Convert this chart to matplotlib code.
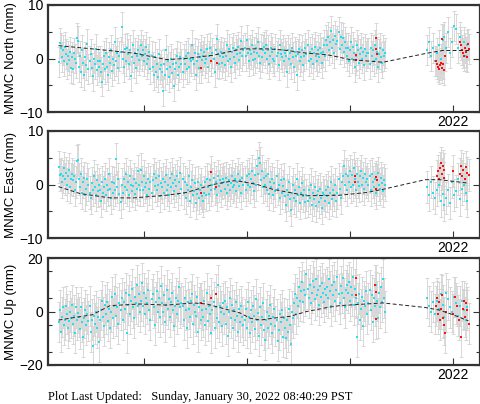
import numpy as np
import matplotlib
matplotlib.use("Agg")
import matplotlib.pyplot as plt

plt.rcParams["font.family"] = ["Liberation Sans", "DejaVu Sans"]

# ---- data (mm), roughly daily/weekly solutions ----
start1, end1 = 2018.17, 2021.34
start2, end2 = 2021.75, 2022.14

north_1 = [
    -0.6, 2.9, 2.0, 0.3, 1.5, -0.5, 2.1, 0.8, -1.0, 0.5, -0.3, 1.2, -1.8, 0.2, -2.0, 1.0, 0.0, -0.8, 3.8, 3.2,
    -1.5, 0.5, -2.5, 1.5, -0.8, -3.0, 0.2, -1.2, 2.8, -2.0, -0.5, 0.8, -1.8, -3.2, 0.0, -1.0, 1.7, -2.2, -0.4, -1.5,
    -0.5, -2.5, -4.3, -1.0, 0.5, -2.0, 1.0, -1.5, -3.0, 0.2, -0.8, 1.5, -2.3, 0.0, -1.2, 3.0, -0.5, 1.0, -1.8, 0.5,
    1.2, 5.8, 0.0, -1.5, 1.8, -0.5, 2.0, 0.8, -1.0, 1.5, -3.2, 0.3, 2.5, -0.8, 1.0, -1.8, 0.5, 1.5, -0.3, 0.8,
    2.5, 0.5, 1.5, -0.5, 0.8, 2.2, -1.0, 0.0, 1.2, -2.0, 0.5, -1.5, -3.0, 0.2, -2.5, -1.0, -3.5, 0.8, -2.0, -1.2,
    -2.5, -6.0, -1.0, -3.0, 1.5, -2.0, -0.5, -3.5, -1.5, 0.0, -2.8, -1.0, -5.2, -2.0, -0.8, 0.5, -3.0, -1.5, 0.3, -1.0,
    -2.5, 0.0, -1.0, 0.5, -2.0, 1.0, -1.5, 0.0, -0.5, 2.5, 0.0, -1.0, 1.0, -3.0, -0.5, 0.8, -1.8, 0.3, 1.5, -0.2,
    0.5, 1.2, -0.8, 0.0, 1.8, -1.5, 0.5, 2.0, -0.5, 1.0, 0.0, -2.5, 1.5, 3.7, 0.8, -1.0, 0.5, 1.2, -0.8, 0.2,
    1.0, -1.2, 0.5, 2.5, -0.5, 1.8, 0.0, -1.5, 1.2, 2.0, 0.3, -0.8, 1.5, 0.8, 2.2, -0.3, 1.0, 3.2, 0.5, 1.5,
    2.0, 0.5, 3.5, 1.0, -0.5, 1.5, 0.8, 2.5, -0.3, 1.2, 0.0, 2.0, 1.0, 3.0, 0.5, -0.8, 1.8, 0.3, 1.5, 2.2,
    1.0, 2.5, 0.0, 1.5, -1.0, 0.5, 2.0, 1.2, 0.0, -0.5, 1.8, 0.5, 1.0, -1.2, 2.5, 0.8, 0.2, 1.5, -0.5, 1.0,
    0.5, -2.5, 1.5, 0.0, 1.0, -1.0, 2.0, 0.3, -1.5, 1.2, 0.5, -3.0, 0.8, 1.8, -0.5, 0.2, 1.5, -1.2, 0.5, 2.0,
    0.8, 2.5, -0.5, 1.2, 0.0, 1.8, -1.0, 1.0, 2.2, 0.5, -0.5, 1.5, 0.2, 2.0, 1.0, -0.8, 1.2, 2.5, 0.5, 3.5,
    2.5, 4.0, 1.5, 3.0, 5.2, 2.0, 3.5, 1.0, 4.2, 2.8, 3.2, 5.0, 1.8, 4.0, 2.5, 3.8, 1.2, 3.0, 2.0, 0.5,
    2.0, -0.5, 1.5, 3.0, 0.0, 2.2, 1.0, -1.5, 0.5, 2.5, 1.5, -0.8, 0.8, 2.0, 0.0, 1.2, -1.2, 1.8, 0.5, 1.0,
    1.0, -1.0, 2.0, 0.5, 1.5, -0.5, 2.5, 0.0, 1.2, -1.5, 0.8, 2.0, 0.3, -0.8, 1.5, 0.5, 1.0,
]
north_2 = [1.5, 3.0, 0.5, 2.0, -0.5, 1.0, 2.5, 0.0, 3.5, 4.0, 2.0, 5.0, 1.0, 3.0, 6.0, 5.5, 2.0, 4.0, 1.5, 3.0, 0.5, 2.5]
north_red_t = [2019.55, 2019.65, 2019.71, 2021.06, 2021.06, 2021.25, 2021.25, 2021.26,
               2021.83, 2021.84, 2021.85, 2021.86, 2021.87, 2021.88, 2021.89, 2021.90, 2021.91, 2021.89, 2021.92,
               2022.07, 2022.08, 2022.09, 2022.10, 2022.11, 2022.12, 2022.13, 2022.14, 2022.15, 2022.16]
north_red_v = [-1.7, -0.5, -0.8, -0.3, 0.6, 3.9, 1.8, 0.9,
               -0.5, -1.0, -1.5, -2.0, -1.2, -0.8, -1.8, -1.0, -2.2, 3.6, 0.4,
               3.0, 2.5, 1.5, 1.0, 0.5, 2.0, 1.2, 0.3, 2.8, 1.8]
north_model_t = [2018.17, 2018.5, 2018.9, 2019.22, 2019.4, 2019.67, 2019.95, 2020.2, 2020.35,
                 2020.58, 2020.78, 2021.0, 2021.32, 2021.75, 2021.9, 2022.16]
north_model_v = [2.4, 1.8, 1.0, -0.2, 0.0, 0.6, 1.8, 1.8, 1.6, 1.0, 0.7, -0.2, -0.7, 1.0, 1.5, 1.5]

east_1 = [
    3.2, 1.8, 2.0, 0.5, 1.5, 3.0, 1.0, 2.2, 0.0, 1.5, 2.8, -0.5, 1.0, 2.0, 0.8, 1.5, -1.0, 0.5, 4.3, 4.5,
    1.0, -0.5, 2.0, -1.5, 0.5, 1.2, -2.0, -0.8, 1.0, 0.0, -1.5, -2.5, 0.3, -1.0, 1.5, -0.5, -2.0, 0.8, -1.2, 0.0,
    -1.0, -3.0, 0.5, -1.5, -0.5, 1.0, -2.0, 0.0, -1.0, 2.0, -0.8, -2.5, 0.5, -1.5, 0.2, -1.0, 4.8, -0.5, 1.0, -1.8,
    -3.3, 0.0, -1.5, 1.0, -0.5, 2.0, -1.0, 0.5, -2.0, 1.5, 0.0, -1.2, -0.3, 1.0, -1.8, 0.3, -0.8, 2.5, 0.0, -1.0,
    2.8, 0.5, -1.0, 1.5, -0.5, 0.2, -2.0, 1.0, -0.8, 0.5, -1.5, 0.8, 2.0, -0.3, 1.2, -1.0, 0.0, 1.5, -2.2, 0.3,
    -0.5, 1.0, -1.5, 0.5, 1.8, -1.0, 0.0, -2.0, 1.2, -0.5, 2.0, 0.3, -1.2, 0.8, -0.3, 1.5, -1.8, 0.5, 2.2, -0.8,
    1.0, -1.5, 0.5, -2.5, 0.0, -1.0, 1.5, -3.0, -0.5, 0.8, -2.0, -1.2, 0.3, -3.5, -1.8, 0.5, -2.5, -1.0, 0.0, -2.2,
    -3.0, -1.5, 0.5, -2.0, 1.0, -0.5, -1.8, 0.8, -1.0, 0.0, 1.2, -0.8, 0.5, -2.0, 1.5, -0.3, 0.8, -1.2, 0.2, 1.0,
    0.5, -0.8, 1.2, -1.5, 0.0, 0.8, -1.0, 0.3, 1.5, -0.5, 0.0, 1.0, -1.2, 0.5, 2.0, -0.3, 0.8, -1.5, 1.2, 0.0,
    0.5, -1.0, 1.5, 0.0, 2.0, -0.5, 1.0, 2.5, 0.3, -1.2, 1.8, 0.0, 3.5, 2.0, 5.0, 4.0, 0.8, 2.5, -0.5, 1.2,
    0.0, 1.5, -1.0, 2.0, -1.8, 0.5, -0.5, 1.0, -2.0, 0.3, -1.2, 1.5, -0.8, 0.0, -2.5, 0.8, -1.5, -0.3, 1.0, -2.2,
    -3.8, -1.0, -2.0, 0.5, -2.8, -4.8, -1.5, 0.0, -2.5, -1.0, -3.0, 1.0, -2.0, -0.5, -3.5, -1.5, 0.3, -2.2, -1.0, -3.2,
    -2.0, -3.0, -1.0, -2.5, 0.0, -3.8, -1.5, -2.8, -0.5, -4.0, -2.0, -1.2, -3.2, -0.8, -2.5, -4.3, -1.5, -2.0, -3.0, -1.0,
    -2.2, -0.5, -3.5, -1.5, 0.5, -2.8, -1.0, -2.0, 0.0, -3.0, -1.5, 1.0, -0.8, -2.5, 0.5, 1.5, 3.5, 0.0, 2.0, -1.0,
    1.5, 0.5, 2.5, -0.5, 1.8, 0.0, 3.0, 1.0, -1.0, 2.0, 0.5, -0.3, 1.5, 2.5, 0.0, 1.2, -0.8, 2.0, 0.5, 1.0,
    0.0, 1.5, -1.0, 2.0, 0.5, -0.5, 1.0, -1.5, 0.8, 2.2, 0.0, -0.8, 1.2, 0.3, -1.2, 0.8, 0.0,
]
east_2 = [-0.5, -2.0, 0.5, -1.5, -2.5, -1.0, 0.0, -3.0, -1.8, -3.8, -2.5, -1.0, -3.5, 0.5, -2.0, -1.2, 1.0, -2.8, -0.8, 0.0, -1.5, -3.0]
east_red_t = [2019.55, 2019.65, 2019.70, 2021.05, 2021.05, 2021.25, 2021.26, 2021.25,
              2021.84, 2021.85, 2021.86, 2021.87, 2021.88, 2021.89, 2021.90, 2021.91, 2021.91, 2022.00,
              2022.07, 2022.08, 2022.09, 2022.10, 2022.12, 2022.13, 2022.14, 2022.16]
east_red_v = [-1.6, 2.4, -0.5, 1.5, 0.5, 1.4, 0.9, -0.9,
              1.5, 2.5, 1.0, 3.0, 4.0, 2.0, 3.5, 1.2, 2.8, 2.6,
              2.0, 3.5, 1.5, 2.8, 1.0, 3.2, 2.2, 1.8]
east_model_t = [2018.17, 2018.38, 2018.67, 2018.9, 2019.22, 2019.41, 2019.67, 2019.87, 2019.93, 2020.1,
                2020.25, 2020.58, 2020.9, 2021.16, 2021.32, 2021.73, 2021.87, 2022.0, 2022.13]
east_model_v = [-0.4, -1.7, -2.5, -2.5, -2.0, -1.5, 0.0, 0.7, 0.6, 0.0,
                -0.9, -2.1, -2.0, -1.5, -0.9, 0.9, 0.9, 0.6, 0.3]

up_1 = [
    -4, 0.5, -7.5, -2, 1.5, -5, -3, 2, -1, -6, -3.5, 0, -2.5, 2.5, -4.5, -1.5, -8, 1.5, -3, -0.5,
    -2, -6.5, 1.5, -4, -9.5, -2.5, 0.5, -5, -1, -3.5, 2, -7.5, -3, -13, -1.5, -4.5, 0, -6, -2, -11.5,
    -3, 0.5, 4, -2, -5.5, 2.5, -1, 3.5, -3.5, 1, -6, 0, 5.5, -2.5, 2, 6.5, -1.5, 1.5, -4.5, 3,
    0.5, 5, -3, 3.5, 1, 7, -8, 2.5, 6, -1, 4, 8.5, 1.5, -2.5, 5.5, 3, 10, 2, 6.5, 0,
    4, 10.5, 2, 7, -1, 5, 3, 8, 0.5, -3, 4.5, 6.5, 1.5, -5, 3.5, 7.5, 0, 5, -2, 9.5,
    3, 0, 6, -4, 2.5, 8, 1, 4.5, -2, 3.5, 7, 0.5, -5.5, 2, 5, -1, 4, 9, 1.5, 3,
    2, -3, 5, 0.5, -6, 3.5, 1, -2, 4, 6.5, -4.5, 2.5, 0, -1.5, 5.5, -7.5, 1.5, 3, -3, 0.5,
    -2, 4, -5, 1, 7, -3.5, 2, -1, -8, 0.5, 3.5, -6, 1.5, -2.5, 10, -4, 2, 0, -5.5, 3,
    -1, 4, -4.5, 1.5, -9, 0, 5, -2.5, 2.5, -6, 0.5, -3, 3.5, -1.5, -7.5, 1, -4, 2, -2, -5,
    -3, 1, -6, 3.5, -2, -8, 0.5, -4, 2, -1.5, -6.5, 4.5, -3, -0.5, -9, 1.5, -5, -2, 3, -7,
    -10.5, -3, 0, -6, -1.5, 2.5, -4.5, -8, -2, 1, -5.5, -3, -11, -7, -1, -4, 0.5, -9.5, -2.5, -6,
    -10, -3, -7.5, 1, -5, -12, 0, -2.5, 3, 6.5, -1, 5, 2, 9, 4, 7.5, 11, 3.5, 8, 6,
    14, 8.5, 5, 10, 3, 7, 11.5, 9, 4.5, 12, 6, 8, 2.5, 9.5, 5.5, 10.5, 7, 3.5, 8.5, 6,
    9, 5, 12, 7.5, 2, 10, 6, 11, 4, 8, 13, 6.5, 3, 9.5, 7, 12.5, 5, 1.5, 8, 10,
    7, 11, 4, 9, 6, 13, 2.5, 8.5, 5, -9.5, 3, 6.5, -3, 1, 5.5, -5.5, 4, 2, 7.5, -1,
    3, 8, 0.5, 6, -4, 5, 2, 10, 4, -2.5, 7, 1.5, 9, 3.5, 12, 5, 0,
]
up_2 = [5, 2, 0, 3.5, -1, 4, 1, 6.5, 2.5, -2, 7, 4.5, 1.5, 0, 5.5, 3, -1.5, 2, 4, 0.5, -3, 1.5]
up_red_t = [2019.55, 2019.65, 2019.70, 2021.06, 2021.06, 2021.24, 2021.25, 2021.25,
            2021.83, 2021.84, 2021.85, 2021.86, 2021.87, 2021.88, 2021.89, 2021.90, 2021.91, 2021.92, 2021.93,
            2022.00, 2022.02, 2022.04, 2022.06, 2022.08, 2022.10, 2022.11, 2022.12, 2022.13, 2022.14, 2022.16]
up_red_v = [3.2, 4.9, 6.6, 12.5, 6.0, 10.0, 7.3, -2.7,
            2, 5, -1, 3.5, -3, 1, 6, -2.5, -5, -8, 0,
            -1, 5.5, 2, -3, -9.5, 1, 4, -2, 3, 0.5, -4.5]
up_model_t = [2018.17, 2018.5, 2018.67, 2018.96, 2019.22, 2019.48, 2019.61, 2019.8, 2019.93, 2020.03,
              2020.13, 2020.25, 2020.42, 2020.58, 2020.78, 2020.9, 2021.07, 2021.32, 2021.73, 2021.87,
              2022.0, 2022.15]
up_model_v = [-3.2, -1.2, 2.2, 2.8, 2.4, 3.2, 2.8, 0.8, -0.5, -2.5,
              -3.2, -2.5, -1.8, 0.0, 1.5, 2.2, 2.6, 3.2, 1.5, 0.5,
              -1.2, -3.5]

panels = [
    ("MNMC North (mm)", north_1, north_2, north_red_t, north_red_v, north_model_t, north_model_v, 2.8, 10),
    ("MNMC East (mm)", east_1, east_2, east_red_t, east_red_v, east_model_t, east_model_v, 3.0, 10),
    ("MNMC Up (mm)", up_1, up_2, up_red_t, up_red_v, up_model_t, up_model_v, 7.5, 20),
]

fig = plt.figure(figsize=(4.81, 4.04), dpi=100)
W, H = 481, 404
frames = [(5, 112), (131, 238), (258, 365)]

for (label, v1, v2, rt, rv, mt, mv, sig, lim), (top, bot) in zip(panels, frames):
    ax = fig.add_axes([48 / W, 1 - bot / H, 432 / W, (bot - top) / H])
    t1 = np.linspace(start1, end1, len(v1))
    t2 = np.linspace(start2, end2, len(v2))
    t = np.concatenate([t1, t2])
    v = np.concatenate([v1, v2])
    err_kw = dict(fmt="none", ecolor="#d2d2d2", elinewidth=0.6, capsize=1.4, capthick=0.6, zorder=1)
    ax.errorbar(t, v, yerr=sig, **err_kw)
    ax.errorbar(rt, rv, yerr=sig, **err_kw)
    ax.plot(t, v, "s", color="#22e0f0", ms=2.1, mew=0, zorder=3)
    ax.plot(rt, rv, "s", color="#ff1010", ms=2.1, mew=0, zorder=4)
    ax.plot(mt, mv, "--", color="#222222", lw=0.7, dashes=(4, 2.5), zorder=5)

    ax.set_xlim(2018.068, 2022.262)
    ax.set_ylim(-lim, lim)
    ax.set_yticks([-lim, 0, lim])
    if lim == 10:
        ax.set_yticks([-5, 5], minor=True)
    else:
        ax.set_yticks([-15, -5, 5, 15], minor=True)
    ax.set_xticks([2019, 2020, 2021, 2022])
    ax.set_xticklabels(["", "", "", "2022"])
    ax.tick_params(axis="both", which="both", direction="in", labelsize=10, colors="#333333",
                   right=True, top=False, width=0.8)
    ax.tick_params(axis="y", which="major", length=5, labelcolor="black")
    ax.tick_params(axis="y", which="minor", length=3)
    ax.tick_params(axis="x", which="major", length=5, labelcolor="black", pad=2)
    for s in ax.spines.values():
        s.set_linewidth(1.6)
        s.set_color("#333333")
    ax.set_ylabel(label, fontsize=9.5)
    ax.yaxis.set_label_coords(-0.072, 0.5)

fig.text(48 / W, 1 - 397 / H, "Plot Last Updated:   Sunday, January 30, 2022 08:40:29 PST",
         family=["Liberation Serif", "DejaVu Serif"], fontsize=9, va="center", ha="left")

fig.savefig("out.png", dpi=100)
